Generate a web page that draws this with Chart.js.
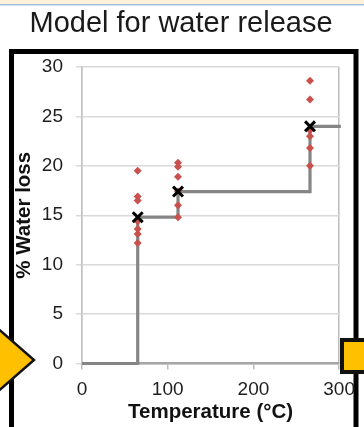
<!DOCTYPE html>
<html>
<head>
<meta charset="utf-8">
<title>Model for water release</title>
<script src="https://cdn.jsdelivr.net/npm/chart.js@4.4.1/dist/chart.umd.min.js"></script>
<style>
  html, body { margin: 0; padding: 0; background: #fff; }
  canvas { display: block; }
</style>
</head>
<body>
<canvas id="myChart" width="364" height="427"></canvas>
<script>
// heating temperature (°C) of each sample group
var groupTemps = [65, 112, 266];
// % water loss measured for each sample, one list per group
var lossGroup1 = [19.5, 16.9, 16.5, 14.4, 13.6, 13.1, 12.2];
var lossGroup2 = [20.3, 19.9, 18.9, 17.4, 16.0, 14.8];
var lossGroup3 = [28.6, 26.7, 23.6, 23.0, 21.8, 20.0];
// mean loss for each group, used as the step model levels
var meanLoss = [14.8, 17.4, 24.0];
// model starts at 0 and runs a little past the last group
var modelStart = 0;
var modelEnd = 302;
var xTicks = [0, 100, 200, 300];
var yTicks = [0, 5, 10, 15, 20, 25, 30];

var FONT = "'Liberation Sans', Arial, sans-serif";

var measured = [];
[lossGroup1, lossGroup2, lossGroup3].forEach(function (list, g) {
    list.forEach(function (v) {
        measured.push({ x: groupTemps[g], y: v });
    });
});

var means = groupTemps.map(function (t, i) {
    return { x: t, y: meanLoss[i] };
});

var model = [{ x: modelStart, y: 0 }].concat(means).concat([{ x: modelEnd, y: meanLoss[meanLoss.length - 1] }]);

// slide frame, heading and the yellow arrow shapes around the chart
var slideDecor = {
    id: 'slideDecor',
    beforeDraw: function (chart) {
        var ctx = chart.ctx;
        ctx.save();
        ctx.fillStyle = '#fff';
        ctx.fillRect(0, 0, chart.width, chart.height);
        ctx.fillStyle = '#fbf1d6';
        ctx.fillRect(0, 0, chart.width, 4);
        ctx.fillStyle = '#a3bde2';
        ctx.fillRect(0, 4, chart.width, 1.5);

        ctx.fillStyle = '#1a1a1a';
        ctx.font = '29px ' + FONT;
        ctx.textAlign = 'center';
        ctx.textBaseline = 'alphabetic';
        ctx.fillText('Model for water release', 181, 32);

        ctx.strokeStyle = '#000';
        ctx.lineWidth = 5;
        ctx.lineJoin = 'miter';
        ctx.beginPath();
        ctx.moveTo(11.5, 440);
        ctx.lineTo(11.5, 51.5);
        ctx.lineTo(356, 51.5);
        ctx.lineTo(356, 440);
        ctx.stroke();
        ctx.restore();
    },
    afterDraw: function (chart) {
        var ctx = chart.ctx;
        ctx.save();
        ctx.fillStyle = '#ffc000';
        ctx.strokeStyle = '#111';
        ctx.lineWidth = 2.5;
        ctx.lineJoin = 'miter';
        ctx.beginPath();
        ctx.moveTo(-5, 326);
        ctx.lineTo(34, 360);
        ctx.lineTo(-5, 394);
        ctx.closePath();
        ctx.fill();
        ctx.stroke();

        ctx.lineWidth = 4;
        ctx.fillRect(342, 340, 30, 32);
        ctx.strokeRect(342, 340, 30, 32);
        ctx.restore();
    }
};

var ctx = document.getElementById('myChart').getContext('2d');
var myChart = new Chart(ctx, {
    type: 'scatter',
    data: {
        datasets: [
            {
                label: 'Mean',
                data: means,
                pointStyle: 'crossRot',
                pointRadius: 7,
                pointBorderWidth: 3,
                borderColor: '#000',
                backgroundColor: '#000'
            },
            {
                label: 'Measured',
                data: measured,
                pointStyle: 'rectRot',
                pointRadius: 4,
                pointBorderWidth: 0,
                borderColor: '#c8504d',
                backgroundColor: '#c8504d'
            },
            {
                label: 'Model',
                type: 'line',
                data: model,
                stepped: 'before',
                showLine: true,
                borderColor: '#858585',
                borderWidth: 3.2,
                pointRadius: 0,
                fill: false,
                clip: false
            }
        ]
    },
    options: {
        responsive: false,
        animation: false,
        layout: { padding: { left: 0, top: 67, right: 24.5, bottom: 0 } },
        plugins: {
            legend: { display: false },
            tooltip: { enabled: false }
        },
        scales: {
            x: {
                type: 'linear',
                min: xTicks[0],
                max: xTicks[xTicks.length - 1],
                afterBuildTicks: function (scale) {
                    scale.ticks = xTicks.map(function (v) { return { value: v }; });
                },
                afterFit: function (scale) { scale.height = 63.5; },
                ticks: {
                    color: '#1e1e1e',
                    font: { family: FONT, size: 19 },
                    padding: 9,
                    maxRotation: 0
                },
                grid: {
                    color: function (c) {
                        return (c.tick && (c.tick.value === 0 || c.tick.value === 300)) ? '#bdbdbd' : 'rgba(0,0,0,0)';
                    },
                    tickColor: '#bdbdbd',
                    tickLength: 6,
                    lineWidth: 1.5
                },
                border: { color: '#a6a6a6', width: 2.5 },
                title: {
                    display: true,
                    text: 'Temperature (°C)',
                    color: '#111',
                    font: { family: FONT, size: 20.5, weight: 'bold' },
                    padding: { top: 0, bottom: 2 }
                }
            },
            y: {
                min: yTicks[0],
                max: yTicks[yTicks.length - 1],
                afterBuildTicks: function (scale) {
                    scale.ticks = yTicks.map(function (v) { return { value: v }; });
                },
                afterFit: function (scale) { scale.width = 82; },
                ticks: {
                    color: '#1e1e1e',
                    font: { family: FONT, size: 19 },
                    padding: 13
                },
                grid: {
                    color: '#d9d9d9',
                    tickColor: '#d9d9d9',
                    tickLength: 6,
                    lineWidth: 1.5
                },
                border: { color: '#c4c4c4', width: 1.5 },
                title: {
                    display: true,
                    text: '% Water loss',
                    color: '#111',
                    font: { family: FONT, size: 20.5, weight: 'bold' },
                    padding: { top: 12, bottom: 0 }
                }
            }
        }
    },
    plugins: [slideDecor]
});
</script>
</body>
</html>
